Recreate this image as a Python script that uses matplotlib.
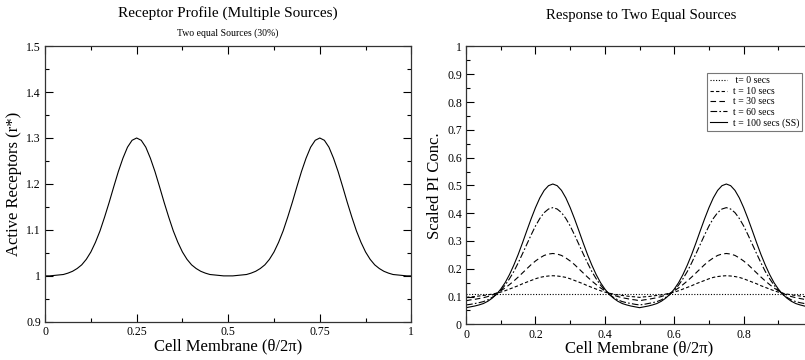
import numpy as np
import matplotlib
matplotlib.use('Agg')
import matplotlib.pyplot as plt
from matplotlib.ticker import MultipleLocator, FormatStrFormatter

plt.rcParams['font.family'] = ['Liberation Serif', 'DejaVu Serif']

# membrane positions (theta / 2pi), every 0.0125
membrane = np.linspace(0, 1, 81)

# left panel: active receptors r*
receptors = [1.000, 1.000, 1.001, 1.002, 1.003, 1.006, 1.010, 1.016, 1.024, 1.036, 1.052, 1.073, 1.098, 1.128, 1.160, 1.194, 1.227, 1.256, 1.280, 1.295, 1.300,
             1.295, 1.280, 1.256, 1.227, 1.194, 1.160, 1.128, 1.098, 1.073, 1.052, 1.036, 1.024, 1.016, 1.010, 1.006, 1.003, 1.002, 1.001, 1.000, 1.000,
             1.000, 1.001, 1.002, 1.003, 1.006, 1.010, 1.016, 1.024, 1.036, 1.052, 1.073, 1.098, 1.128, 1.160, 1.194, 1.227, 1.256, 1.280, 1.295, 1.300,
             1.295, 1.280, 1.256, 1.227, 1.194, 1.160, 1.128, 1.098, 1.073, 1.052, 1.036, 1.024, 1.016, 1.010, 1.006, 1.003, 1.002, 1.001, 1.000, 1.000]

# right panel: scaled PI concentration at several times
t0_x = [0.0, 1.0]
pi_t0 = [0.110, 0.110]
pi_t10 = [0.097, 0.099, 0.100, 0.102, 0.104, 0.106, 0.109, 0.112, 0.116, 0.121, 0.127, 0.133, 0.139, 0.146, 0.152, 0.158, 0.164, 0.169, 0.172, 0.174, 0.175,
          0.174, 0.172, 0.169, 0.164, 0.158, 0.152, 0.146, 0.139, 0.133, 0.127, 0.121, 0.116, 0.112, 0.109, 0.106, 0.104, 0.102, 0.100, 0.099, 0.097,
          0.099, 0.100, 0.102, 0.104, 0.106, 0.109, 0.112, 0.116, 0.121, 0.127, 0.133, 0.139, 0.146, 0.152, 0.158, 0.164, 0.169, 0.172, 0.174, 0.175,
          0.174, 0.172, 0.169, 0.164, 0.158, 0.152, 0.146, 0.139, 0.133, 0.127, 0.121, 0.116, 0.112, 0.109, 0.106, 0.104, 0.102, 0.100, 0.099, 0.097]
pi_t30 = [0.085, 0.088, 0.090, 0.093, 0.096, 0.100, 0.105, 0.112, 0.121, 0.131, 0.143, 0.156, 0.170, 0.185, 0.200, 0.215, 0.228, 0.239, 0.248, 0.253, 0.255,
          0.253, 0.248, 0.239, 0.228, 0.215, 0.200, 0.185, 0.170, 0.156, 0.143, 0.131, 0.121, 0.112, 0.105, 0.100, 0.096, 0.093, 0.090, 0.088, 0.085,
          0.088, 0.090, 0.093, 0.096, 0.100, 0.105, 0.112, 0.121, 0.131, 0.143, 0.156, 0.170, 0.185, 0.200, 0.215, 0.228, 0.239, 0.248, 0.253, 0.255,
          0.253, 0.248, 0.239, 0.228, 0.215, 0.200, 0.185, 0.170, 0.156, 0.143, 0.131, 0.121, 0.112, 0.105, 0.100, 0.096, 0.093, 0.090, 0.088, 0.085]
pi_t60 = [0.070, 0.072, 0.075, 0.078, 0.082, 0.088, 0.097, 0.108, 0.123, 0.141, 0.164, 0.190, 0.221, 0.254, 0.288, 0.322, 0.354, 0.381, 0.402, 0.415, 0.420,
          0.415, 0.402, 0.381, 0.354, 0.322, 0.288, 0.254, 0.221, 0.190, 0.164, 0.141, 0.123, 0.108, 0.097, 0.088, 0.082, 0.078, 0.075, 0.072, 0.070,
          0.072, 0.075, 0.078, 0.082, 0.088, 0.097, 0.108, 0.123, 0.141, 0.164, 0.190, 0.221, 0.254, 0.288, 0.322, 0.354, 0.381, 0.402, 0.415, 0.420,
          0.415, 0.402, 0.381, 0.354, 0.322, 0.288, 0.254, 0.221, 0.190, 0.164, 0.141, 0.123, 0.108, 0.097, 0.088, 0.082, 0.078, 0.075, 0.072, 0.070]
pi_ss = [0.060, 0.063, 0.066, 0.070, 0.075, 0.083, 0.094, 0.108, 0.127, 0.150, 0.179, 0.213, 0.251, 0.293, 0.337, 0.380, 0.420, 0.455, 0.482, 0.499, 0.505,
         0.499, 0.482, 0.455, 0.420, 0.380, 0.337, 0.293, 0.251, 0.213, 0.179, 0.150, 0.127, 0.108, 0.094, 0.083, 0.075, 0.070, 0.066, 0.063, 0.060,
         0.063, 0.066, 0.070, 0.075, 0.083, 0.094, 0.108, 0.127, 0.150, 0.179, 0.213, 0.251, 0.293, 0.337, 0.380, 0.420, 0.455, 0.482, 0.499, 0.505,
         0.499, 0.482, 0.455, 0.420, 0.380, 0.337, 0.293, 0.251, 0.213, 0.179, 0.150, 0.127, 0.108, 0.094, 0.083, 0.075, 0.070, 0.066, 0.063, 0.060]

labels = [' t= 0 secs', 't = 10 secs', 't = 30 secs', 't = 60 secs', 't = 100 secs (SS)']
right_xticks = [0, 0.2, 0.4, 0.6, 0.8, 1.0]
right_xticklabels = ['0', '0.2', '0.4', '0.6', '0.8', '']   # the "1" falls off the image


def style_axes(ax):
    ax.tick_params(which='both', direction='in', top=True, right=True,
                   labelsize=8.5, width=0.8, pad=3)
    ax.tick_params(which='major', length=6)
    ax.tick_params(which='minor', length=3)
    for s in ax.spines.values():
        s.set_linewidth(0.9)
        s.set_color('#333333')


fig = plt.figure(figsize=(8.05, 3.6), dpi=100)

# left panel
ax = fig.add_axes([0.056, 0.106, 0.455, 0.766])
ax.plot(membrane, receptors, color='black', lw=0.8)
ax.set_xlim(0, 1)
ax.set_ylim(0.9, 1.5)
ax.xaxis.set_major_locator(MultipleLocator(0.25))
ax.xaxis.set_minor_locator(MultipleLocator(0.125))
ax.yaxis.set_major_locator(MultipleLocator(0.1))
ax.yaxis.set_minor_locator(MultipleLocator(0.05))
ax.xaxis.set_major_formatter(FormatStrFormatter('%g'))
ax.yaxis.set_major_formatter(FormatStrFormatter('%g'))
style_axes(ax)
ax.set_xlabel('Cell Membrane (θ/2π)', fontsize=12, labelpad=0)
ax.set_ylabel('Active Receptors (r*)', fontsize=12, labelpad=3)
fig.text(0.283, 0.963, 'Receptor Profile (Multiple Sources)', ha='center', va='center', fontsize=11)
fig.text(0.283, 0.908, 'Two equal Sources (30%)', ha='center', va='center', fontsize=7)

# right panel, runs past the image edge like the original
ax2 = fig.add_axes([0.579, 0.099, 0.431, 0.772])
ax2.plot(t0_x, pi_t0, color='black', lw=0.8, ls=(0, (1, 1.5)), label=labels[0])
ax2.plot(membrane, pi_t10, color='black', lw=0.8, ls=(0, (3, 2)), label=labels[1])
ax2.plot(membrane, pi_t30, color='black', lw=0.8, ls=(0, (5, 3)), label=labels[2])
ax2.plot(membrane, pi_t60, color='black', lw=0.8, ls=(0, (6, 2, 1.5, 2)), label=labels[3])
ax2.plot(membrane, pi_ss, color='black', lw=0.8, label=labels[4])
ax2.set_xlim(0, 1)
ax2.set_ylim(0, 1)
ax2.set_xticks(right_xticks, right_xticklabels)
ax2.xaxis.set_minor_locator(MultipleLocator(0.1))
ax2.yaxis.set_major_locator(MultipleLocator(0.1))
ax2.yaxis.set_minor_locator(MultipleLocator(0.05))
ax2.yaxis.set_major_formatter(FormatStrFormatter('%g'))
style_axes(ax2)
ax2.set_xlabel('Cell Membrane (θ/2π)', fontsize=12, labelpad=0)
ax2.set_ylabel('Scaled PI Conc.', fontsize=12, labelpad=3)
fig.text(0.796, 0.958, 'Response to Two Equal Sources', ha='center', va='center', fontsize=10.6)

leg = ax2.legend(loc='upper left', bbox_to_anchor=(0.878, 0.797), bbox_transform=fig.transFigure,
                 fontsize=7, frameon=True, fancybox=False, handlelength=1.7, handletextpad=0.6,
                 labelspacing=0.15, borderpad=0.35, borderaxespad=0)
leg.get_frame().set_edgecolor('#555555')
leg.get_frame().set_linewidth(0.8)

fig.savefig('out.png', dpi=100)
